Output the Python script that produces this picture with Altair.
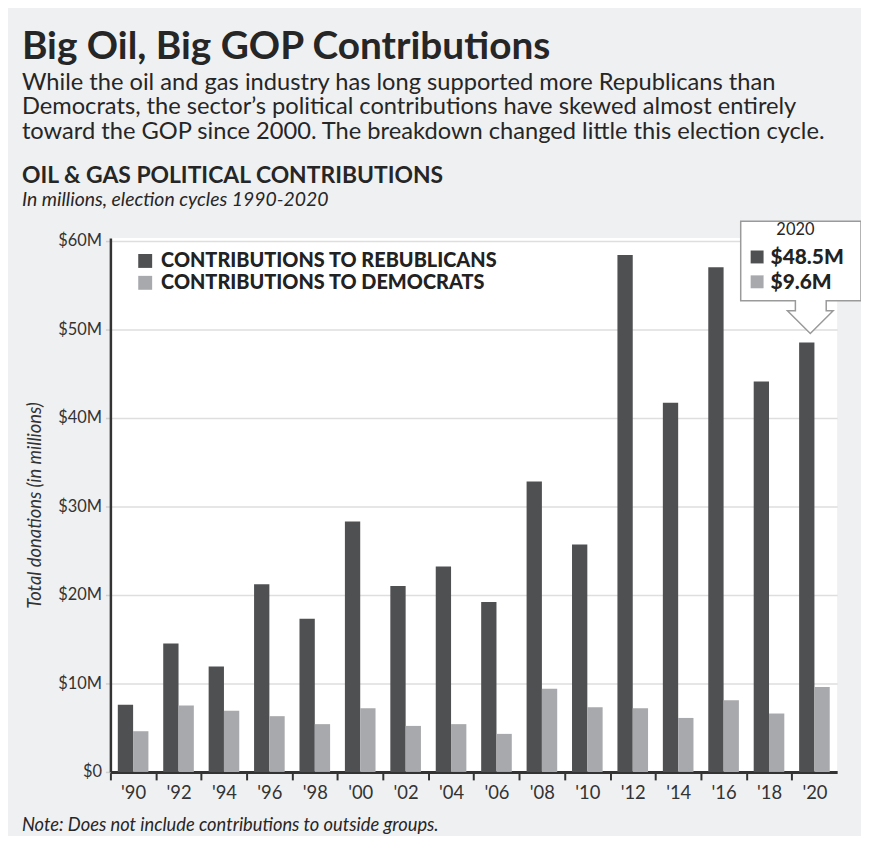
import altair as alt
import pandas as pd

years = ["'90", "'92", "'94", "'96", "'98", "'00", "'02", "'04",
         "'06", "'08", "'10", "'12", "'14", "'16", "'18", "'20"]
rep = [7.6, 14.5, 11.9, 21.2, 17.3, 28.3, 21.0, 23.2,
       19.2, 32.8, 25.7, 58.4, 41.7, 57.0, 44.1, 48.5]
dem = [4.6, 7.5, 6.9, 6.3, 5.4, 7.2, 5.2, 5.4,
       4.3, 9.4, 7.3, 7.2, 6.1, 8.1, 6.6, 9.6]
series = ["CONTRIBUTIONS TO REBUBLICANS", "CONTRIBUTIONS TO DEMOCRATS"]
colors = ["#4f5052", "#a8a9ac"]
y_ticks = [0, 10, 20, 30, 40, 50, 60]

title_text = "Big Oil, Big GOP Contributions"
desc_lines = [
    "While the oil and gas industry has long supported more Republicans than",
    "Democrats, the sector\u2019s political contributions have skewed almost entirely",
    "toward the GOP since 2000. The breakdown changed little this election cycle.",
]
heading_text = "OIL & GAS POLITICAL CONTRIBUTIONS"
sub_text = "In millions, election cycles 1990-2020"
note_text = "Note: Does not include contributions to outside groups."
callout_year = "'20"
callout_title = "2020"

rows = []
for i, y in enumerate(years):
    rows.append({"year": y, "party": series[0], "value": rep[i]})
    rows.append({"year": y, "party": series[1], "value": dem[i]})
df = pd.DataFrame(rows)

FONT = "Lato"
TXT = "#262626"
HALF_GAP = 7.45

bars = alt.Chart(df).mark_bar().encode(
    x=alt.X("year:N", sort=years,
            scale=alt.Scale(paddingInner=0.326, paddingOuter=0.163),
            axis=alt.Axis(title=None, bandPosition=0, tickExtra=False,
                          tickOffset=-HALF_GAP, labelOffset=HALF_GAP,
                          labelAngle=0,
                          domainColor="#333", domainWidth=3,
                          tickColor="#333", tickWidth=2, tickSize=8,
                          labelFont=FONT, labelFontSize=18.5, labelColor="#333",
                          labelPadding=4, grid=False)),
    xOffset=alt.XOffset("party:N", sort=series),
    y=alt.Y("value:Q", scale=alt.Scale(domain=[0, 60.3], nice=False),
            axis=alt.Axis(values=y_ticks,
                          labelExpr="datum.value == 0 ? '$0' : '$' + datum.value + 'M'",
                          grid=True, gridColor="#dedede", gridWidth=1.5,
                          domainColor="#333", domainWidth=2.5,
                          tickSize=5, tickColor="#cfcfcf", tickWidth=1.5,
                          labelFont=FONT, labelFontSize=16.5, labelColor="#333",
                          labelPadding=4,
                          title="Total donations (in millions)",
                          titleFont=FONT, titleFontStyle="italic",
                          titleFontWeight="normal", titleFontSize=18.5,
                          titleColor="#333", titlePadding=13)),
    color=alt.Color("party:N", sort=series,
                    scale=alt.Scale(domain=series, range=colors),
                    legend=alt.Legend(title=None, orient="none",
                                      legendX=25, legendY=13,
                                      symbolType="square", symbolSize=196,
                                      symbolStrokeWidth=0, symbolOpacity=1,
                                      labelFont=FONT, labelFontSize=20,
                                      labelFontWeight=900, labelColor="#222",
                                      labelOffset=6, rowPadding=2, padding=0,
                                      labelLimit=600)),
)

one = alt.Data(values=[{"a": 1}])


def txt(text, x, y, size, weight="normal", style="normal", font=FONT,
        color=TXT, align="left", baseline="alphabetic", lh=None):
    kw = dict(text=text, fontSize=size, fontWeight=weight, fontStyle=style,
              font=font, color=color, align=align, baseline=baseline)
    if lh is not None:
        kw["lineHeight"] = lh
    return alt.Chart(one).mark_text(**kw).encode(x=alt.value(x), y=alt.value(y))


# callout outline: box + downward arrow (pixel path, size=4 -> unit scale)
callout_path = ("M634,-17 L755,-17 L755,63 L720,63 L720,73 L727,73 L704,96 "
                "L681,73 L689,73 L689,63 L634,63 Z")
callout_box = alt.Chart(one).mark_point(
    shape=callout_path, size=4, filled=True, fill="white",
    stroke="#9a9a9a", strokeWidth=1.5, opacity=1
).encode(x=alt.value(0), y=alt.value(0))

base20 = alt.Chart(df).transform_filter(alt.datum.year == callout_year)
call_sq = base20.mark_square(size=169, opacity=1).encode(
    x=alt.value(650.5),
    y=alt.Y("party:N", sort=series,
            scale=alt.Scale(domain=series, range=[19, 44], padding=0), axis=None),
    color=alt.Color("party:N", sort=series,
                    scale=alt.Scale(domain=series, range=colors), legend=None),
)
call_txt = base20.transform_calculate(
    lbl="'$' + format(datum.value, '.1f') + 'M'"
).mark_text(align="left", baseline="middle", font=FONT, fontSize=21,
            fontWeight=900, color="#222").encode(
    x=alt.value(664),
    y=alt.Y("party:N", sort=series,
            scale=alt.Scale(domain=series, range=[20, 45], padding=0), axis=None),
    text="lbl:N",
)

layers = [
    bars,
    callout_box,
    call_sq,
    call_txt,
    txt(callout_title, 689, -8, 16.5, baseline="middle", align="center"),
    txt(title_text, -89, -180, 39, weight="bold"),
    txt(desc_lines, -89, -149, 23.8, lh=24.5),
    txt(heading_text, -89, -55, 23, weight="bold"),
    txt(sub_text, -89, -32, 19.5, style="italic"),
    txt(note_text, -89, 596, 18.4, style="italic"),
]

chart = alt.layer(*layers).resolve_scale(y="independent").properties(
    width=731, height=537,
    autosize=alt.AutoSizeParams(type="none"),
    padding={"left": 103, "top": 229, "right": 24, "bottom": 62},
    background="#eff0f2",
).configure_view(fill="white", stroke=None)

chart.save("out.html", embed_options={"renderer": "svg", "actions": False})
